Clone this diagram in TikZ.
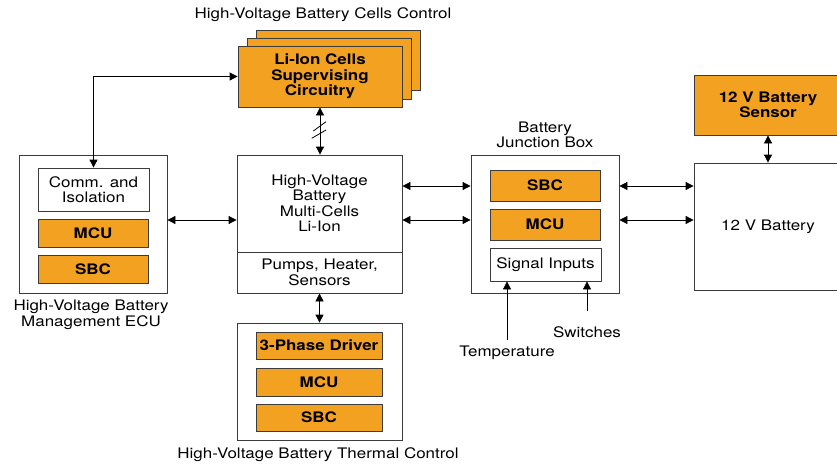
\documentclass[tikz,border=0pt]{standalone}
\usepackage{fontspec}
\setmainfont{TeX Gyre Heros}[FakeStretch=1.17]
\usetikzlibrary{arrows.meta}
\definecolor{orng}{RGB}{243,161,32}
\definecolor{edge}{RGB}{60,60,60}
\tikzset{
  box/.style={draw=edge, line width=0.8pt, fill=white, inner sep=0pt, align=center, font=\fontsize{14.5}{15.5}\selectfont},
  obox/.style={box, fill=orng, font=\bfseries\fontsize{14.5}{15.5}\selectfont},
  lbl/.style={align=center, inner sep=0pt, font=\fontsize{14.5}{15.5}\selectfont},
  dar/.style={{Triangle[length=8pt,width=8pt]}-{Triangle[length=8pt,width=8pt]}, line width=0.8pt},
  sar/.style={-{Triangle[length=8pt,width=8pt]}, line width=0.8pt},
}
\begin{document}
\begin{tikzpicture}[x=1pt,y=-1pt]
\useasboundingbox (0,0) rectangle (837,466);
% Cells control
\node[lbl] (cellstitle) at (323,15) {High-Voltage Battery Cells Control};
\node[obox, minimum width=164, minimum height=60] (cells3) at (338,60.5) {};
\node[obox, minimum width=164, minimum height=61] (cells2) at (329,68.5) {};
\node[obox, minimum width=164, minimum height=61] (cells) at (320,76.5) {Li-Ion Cells\\Supervising\\Circuitry};
% ECU
\node[box, minimum width=148, minimum height=138] (ecu) at (93,224) {};
\node[box, minimum width=111, minimum height=43] (comm) at (93.5,189.5) {Comm. and\\Isolation};
\node[obox, minimum width=110, minimum height=28] (mcu1) at (93,233) {MCU};
\node[obox, minimum width=110, minimum height=28] (sbc1) at (93,269) {SBC};
\node[lbl] (ecul) at (91,315) {High-Voltage Battery\\Management ECU};
% Central battery
\node[box, minimum width=165, minimum height=97] (hv) at (319.5,203.5) {High-Voltage\\Battery\\Multi-Cells\\Li-Ion};
\node[box, minimum width=165, minimum height=41] (pumps) at (319.5,272.5) {Pumps, Heater,\\Sensors};
% Thermal
\node[box, minimum width=165, minimum height=117] (therm) at (319.5,381.5) {};
\node[obox, minimum width=126, minimum height=27] (drv) at (319,345.5) {3-Phase Driver};
\node[obox, minimum width=126, minimum height=28] (mcu2) at (319,382) {MCU};
\node[obox, minimum width=126, minimum height=27] (sbc2) at (319,417.5) {SBC};
\node[lbl] (therml) at (318,455) {High-Voltage Battery Thermal Control};
% Junction box
\node[lbl] (juncl) at (545,135) {Battery\\Junction Box};
\node[box, minimum width=148, minimum height=138] (junc) at (545,224) {};
\node[obox, minimum width=110, minimum height=31] (sbc3) at (545,185.5) {SBC};
\node[obox, minimum width=110, minimum height=31] (mcu3) at (545,224.5) {MCU};
\node[box, minimum width=111, minimum height=33] (sig) at (545.5,264.5) {Signal Inputs};
\node[lbl] (templ) at (507,353) {Temperature};
\node[lbl] (swl) at (587,332) {Switches};
\coordinate (tempend) at (507,340);
\coordinate (swend) at (587,311);
% 12 V
\node[obox, minimum width=148, minimum height=60] (sens) at (768,105) {12 V Battery\\Sensor};
\node[box, minimum width=148, minimum height=127] (bat) at (768,226.5) {12 V Battery};
% connectors
\draw[dar] (comm.north) |- (cells.west);
\draw[dar] (cells.south) -- (cells.south |- hv.north);
\draw[line width=0.8pt] (313.3,131) -- (326,121.7);
\draw[line width=0.8pt] (311.7,138.3) -- (326,130);
\draw[dar] ([yshift=4pt]ecu.east) -- ([yshift=4pt]ecu.east -| hv.west);
\draw[dar] ([yshift=38pt]junc.west -| hv.east) -- ([yshift=38pt]junc.west);
\draw[dar] ([yshift=4pt]junc.west -| hv.east) -- ([yshift=4pt]junc.west);
\draw[dar] ([yshift=38pt]junc.east) -- ([yshift=38pt]junc.east -| bat.west);
\draw[dar] ([yshift=4pt]junc.east) -- ([yshift=4pt]junc.east -| bat.west);
\draw[dar] (pumps.south) -- (pumps.south |- therm.north);
\draw[dar] (sens.south) -- (bat.north);
\draw[sar] (tempend) -- (tempend |- sig.south);
\draw[sar] (swend) -- (swend |- sig.south);
\end{tikzpicture}
\end{document}
